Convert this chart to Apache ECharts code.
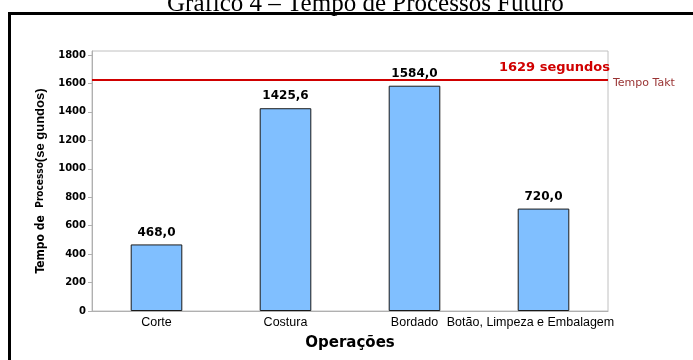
<!DOCTYPE html>
<html>
<head>
<meta charset="utf-8">
<script src="https://cdn.jsdelivr.net/npm/echarts@6/dist/echarts.min.js"></script>
<style>
  html, body { margin: 0; padding: 0; background: #fff; }
  #chart { width: 693px; height: 360px; }
</style>
</head>
<body>
<div id="chart"></div>
<script>
// Process time per operation (seconds)
const operations = ['Corte', 'Costura', 'Bordado', 'Botão, Limpeza e Embalagem'];
const processTimes = [468.0, 1425.6, 1584.0, 720.0];
const taktTime = 1629;
const yTicks = [0, 200, 400, 600, 800, 1000, 1200, 1400, 1600, 1800];

const chart = echarts.init(document.getElementById('chart'), null, { renderer: 'canvas' });

const fmt = v => v.toFixed(1).replace('.', ',');
const SANS = 'Liberation Sans, Arial, sans-serif';
const WIDE = 'DejaVu Sans, Verdana, sans-serif';
const NARROW = 'Liberation Sans Narrow, DejaVu Sans Condensed, Arial Narrow, sans-serif';

chart.setOption({
  animation: false,
  backgroundColor: '#fff',
  textStyle: { fontFamily: SANS },
  title: {
    text: 'Gráfico 4 – Tempo de Processos Futuro',
    left: 162,
    top: -13,
    textStyle: { fontFamily: 'Liberation Serif, Times New Roman, serif', fontWeight: 'normal', fontSize: 25, color: '#000' }
  },
  graphic: [{
    type: 'rect',
    shape: { x: 9.5, y: 13.5, width: 720, height: 400 },
    style: { fill: 'none', stroke: '#000', lineWidth: 3 },
    silent: true
  }],
  grid: {
    left: 92, right: 85, top: 51, bottom: 49,
    show: true, borderColor: '#c0c0c0', borderWidth: 1, backgroundColor: 'transparent'
  },
  xAxis: {
    type: 'category',
    data: operations,
    name: 'Operações',
    nameLocation: 'middle',
    nameGap: 25,
    nameTextStyle: { fontSize: 15, fontWeight: 'bold', color: '#000', fontFamily: WIDE },
    axisLine: { lineStyle: { color: '#b0b0b0' } },
    axisTick: { alignWithLabel: true, length: 3, lineStyle: { color: '#b0b0b0' } },
    axisLabel: {
      interval: 0, fontSize: 12.5, color: '#000', margin: 5,
      formatter: (v, i) => i === 3 ? '{shift|' + v + '}' : v,
      rich: { shift: { fontSize: 12.5, color: '#000', fontFamily: SANS, padding: [0, 26, 0, 0] } }
    }
  },
  yAxis: {
    type: 'value',
    min: 0,
    max: 1828,
    name: '{a|Tempo de  }{b|Processo}{c|(se gundos)}',
    nameLocation: 'middle',
    nameGap: 44,
    nameRotate: 90,
    nameTextStyle: {
      rich: {
        a: { fontSize: 12, fontWeight: 'bold', color: '#000', fontFamily: NARROW },
        b: { fontSize: 10, fontWeight: 'bold', color: '#000', fontFamily: NARROW },
        c: { fontSize: 13, fontWeight: 'bold', color: '#000', fontFamily: SANS }
      }
    },
    splitLine: { show: false },
    axisLine: { show: true, lineStyle: { color: '#b0b0b0' } },
    axisTick: { show: true, length: 4, customValues: yTicks, lineStyle: { color: '#b0b0b0' } },
    axisLabel: {
      customValues: yTicks, fontSize: 10, fontWeight: 'bold', color: '#000', margin: 6,
      fontFamily: WIDE, formatter: v => String(v)
    }
  },
  series: [{
    type: 'bar',
    data: processTimes,
    barWidth: '40%',
    itemStyle: { color: '#80BFFF', borderColor: '#1a1a1a', borderWidth: 1 },
    label: {
      show: true, position: 'top', distance: 6,
      fontSize: 12, fontWeight: 'bold', color: '#000', fontFamily: WIDE,
      formatter: p => fmt(p.value)
    },
    markLine: {
      silent: true,
      symbol: 'none',
      lineStyle: { color: '#d00000', width: 2, type: 'solid' },
      data: [
        {
          yAxis: taktTime,
          label: {
            position: 'insideEndTop', distance: [-2, 5],
            formatter: taktTime + ' segundos',
            fontSize: 13, fontWeight: 'bold', color: '#d00000', fontFamily: WIDE
          }
        },
        {
          yAxis: taktTime,
          label: {
            position: 'end', distance: 5,
            formatter: '{t|Tempo Takt}',
            rich: { t: { fontSize: 11, color: '#993333', fontFamily: WIDE, padding: [7, 0, 0, 0] } }
          }
        }
      ]
    }
  }]
});
</script>
</body>
</html>
